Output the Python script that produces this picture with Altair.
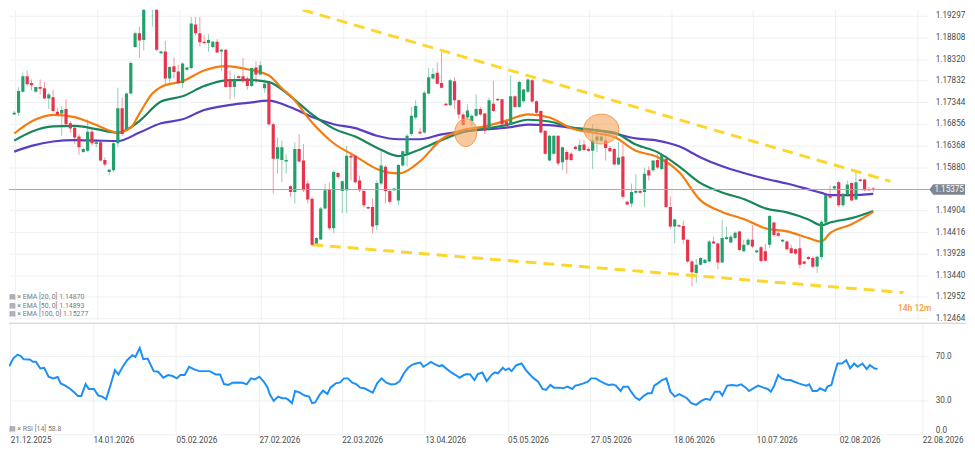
import altair as alt
import pandas as pd

# ---------------- data ----------------
# daily candles: (open, high, low, close), index 1..200
candles = [
 (1.1707,1.1715,1.1706,1.1711),(1.1711,1.1769,1.1704,1.1760),(1.1758,1.1802,1.1756,1.1793),(1.1793,1.1806,1.1771,1.1775),
 (1.1778,1.1786,1.1761,1.1773),(1.1758,1.1769,1.1756,1.1769),(1.1769,1.1786,1.1752,1.1765),(1.1766,1.1780,1.1741,1.1743),
 (1.1743,1.1756,1.1719,1.1752),(1.1746,1.1763,1.1711,1.1715),(1.1713,1.1722,1.1704,1.1707),(1.1709,1.1726,1.1659,1.1717),
 (1.1719,1.1741,1.1681,1.1685),(1.1687,1.1692,1.1666,1.1675),(1.1677,1.1681,1.1640,1.1655),(1.1657,1.1663,1.1616,1.1633),
 (1.1622,1.1631,1.1620,1.1629),(1.1625,1.1696,1.1622,1.1668),(1.1668,1.1674,1.1637,1.1642),(1.1640,1.1651,1.1633,1.1644),
 (1.1644,1.1648,1.1601,1.1603),(1.1604,1.1610,1.1590,1.1594),(1.1577,1.1584,1.1569,1.1582),(1.1581,1.1648,1.1577,1.1642),
 (1.1642,1.1767,1.1633,1.1721),(1.1721,1.1745,1.1659,1.1663),(1.1674,1.1756,1.1670,1.1754),(1.1754,1.1827,1.1752,1.1823),
 (1.1859,1.1894,1.1857,1.1890),(1.1890,1.1905,1.1834,1.1874),(1.1875,1.1990,1.1851,1.1975),(1.1975,1.1990,1.1950,1.1955),
 (1.1950,1.1985,1.1905,1.1965),(1.1965,1.1975,1.1849,1.1853),(1.1845,1.1851,1.1843,1.1849),(1.1849,1.1873,1.1775,1.1788),
 (1.1788,1.1816,1.1778,1.1814),(1.1816,1.1836,1.1788,1.1803),(1.1804,1.1819,1.1775,1.1778),(1.1778,1.1824,1.1766,1.1822),
 (1.1808,1.1815,1.1806,1.1813),(1.1812,1.1927,1.1808,1.1912),(1.1910,1.1927,1.1886,1.1890),(1.1890,1.1927,1.1860,1.1870),
 (1.1871,1.1886,1.1866,1.1868),(1.1868,1.1888,1.1849,1.1875),(1.1859,1.1873,1.1857,1.1871),(1.1871,1.1877,1.1845,1.1847),
 (1.1849,1.1855,1.1804,1.1853),(1.1853,1.1855,1.1767,1.1769),(1.1786,1.1806,1.1741,1.1769),(1.1769,1.1797,1.1745,1.1786),
 (1.1793,1.1795,1.1788,1.1789),(1.1793,1.1834,1.1778,1.1782),(1.1788,1.1793,1.1763,1.1771),(1.1771,1.1813,1.1769,1.1812),
 (1.1813,1.1827,1.1778,1.1797),(1.1797,1.1827,1.1795,1.1818),(1.1766,1.1786,1.1756,1.1776),(1.1778,1.1782,1.1681,1.1685),
 (1.1685,1.1689,1.1528,1.1607),(1.1607,1.1655,1.1573,1.1633),(1.1604,1.1648,1.1554,1.1633),(1.1601,1.1618,1.1573,1.1604),
 (1.1545,1.1547,1.1521,1.1532),(1.1532,1.1644,1.1506,1.1629),(1.1629,1.1663,1.1599,1.1601),(1.1603,1.1640,1.1532,1.1536),
 (1.1551,1.1558,1.1506,1.1515),(1.1517,1.1521,1.1409,1.1413),(1.1416,1.1430,1.1415,1.1428),(1.1425,1.1498,1.1424,1.1495),
 (1.1495,1.1551,1.1492,1.1536),(1.1537,1.1554,1.1446,1.1450),(1.1450,1.1581,1.1439,1.1577),(1.1575,1.1577,1.1563,1.1566),
 (1.1534,1.1558,1.1484,1.1556),(1.1536,1.1636,1.1484,1.1614),(1.1614,1.1622,1.1558,1.1610),(1.1614,1.1616,1.1552,1.1554),
 (1.1558,1.1569,1.1532,1.1536),(1.1534,1.1537,1.1498,1.1502),(1.1498,1.1500,1.1493,1.1495),(1.1498,1.1517,1.1439,1.1454),
 (1.1457,1.1558,1.1446,1.1552),(1.1551,1.1625,1.1547,1.1592),(1.1589,1.1592,1.1506,1.1534),(1.1534,1.1536,1.1506,1.1510),
 (1.1536,1.1542,1.1534,1.1540),(1.1513,1.1595,1.1502,1.1593),(1.1592,1.1625,1.1589,1.1624),(1.1620,1.1663,1.1590,1.1659),
 (1.1663,1.1724,1.1659,1.1704),(1.1700,1.1739,1.1696,1.1726),(1.1668,1.1677,1.1663,1.1664),(1.1666,1.1760,1.1664,1.1756),
 (1.1754,1.1812,1.1752,1.1791),(1.1788,1.1812,1.1786,1.1798),(1.1801,1.1824,1.1775,1.1776),(1.1778,1.1851,1.1766,1.1767),
 (1.1731,1.1733,1.1726,1.1728),(1.1728,1.1788,1.1726,1.1784),(1.1782,1.1791,1.1719,1.1739),(1.1739,1.1741,1.1696,1.1707),
 (1.1707,1.1711,1.1681,1.1683),(1.1700,1.1730,1.1696,1.1716),(1.1692,1.1707,1.1681,1.1704),(1.1704,1.1752,1.1701,1.1719),
 (1.1719,1.1724,1.1704,1.1707),(1.1709,1.1711,1.1663,1.1670),(1.1674,1.1745,1.1670,1.1739),(1.1731,1.1783,1.1713,1.1715),
 (1.1742,1.1745,1.1737,1.1739),(1.1741,1.1742,1.1681,1.1685),(1.1691,1.1696,1.1679,1.1683),(1.1685,1.1795,1.1683,1.1748),
 (1.1748,1.1750,1.1722,1.1724),(1.1724,1.1783,1.1722,1.1780),(1.1737,1.1765,1.1733,1.1763),(1.1758,1.1788,1.1756,1.1786),
 (1.1784,1.1787,1.1733,1.1736),(1.1737,1.1739,1.1707,1.1711),(1.1715,1.1716,1.1664,1.1666),(1.1670,1.1671,1.1616,1.1618),
 (1.1603,1.1660,1.1601,1.1659),(1.1618,1.1660,1.1614,1.1659),(1.1659,1.1660,1.1592,1.1596),(1.1599,1.1634,1.1581,1.1633),
 (1.1622,1.1627,1.1573,1.1605),(1.1618,1.1622,1.1601,1.1604),(1.1634,1.1637,1.1627,1.1629),(1.1625,1.1649,1.1624,1.1638),
 (1.1639,1.1649,1.1625,1.1627),(1.1629,1.1634,1.1622,1.1625),(1.1625,1.1685,1.1584,1.1648),(1.1648,1.1678,1.1622,1.1657),
 (1.1648,1.1662,1.1645,1.1657),(1.1648,1.1666,1.1603,1.1631),(1.1631,1.1636,1.1622,1.1624),(1.1629,1.1631,1.1592,1.1594),
 (1.1594,1.1644,1.1592,1.1610),(1.1612,1.1640,1.1517,1.1521),(1.1510,1.1512,1.1502,1.1504),(1.1506,1.1551,1.1498,1.1532),
 (1.1530,1.1573,1.1528,1.1534),(1.1534,1.1536,1.1528,1.1530),(1.1532,1.1587,1.1498,1.1573),(1.1581,1.1590,1.1558,1.1569),
 (1.1581,1.1604,1.1577,1.1603),(1.1604,1.1618,1.1584,1.1587),(1.1584,1.1618,1.1582,1.1616),(1.1607,1.1614,1.1495,1.1498),
 (1.1498,1.1522,1.1450,1.1454),(1.1454,1.1472,1.1416,1.1470),(1.1457,1.1459,1.1452,1.1454),(1.1455,1.1467,1.1415,1.1424),
 (1.1424,1.1425,1.1372,1.1375),(1.1375,1.1379,1.1319,1.1351),(1.1349,1.1381,1.1327,1.1368),(1.1368,1.1385,1.1366,1.1383),
 (1.1372,1.1381,1.1370,1.1379),(1.1375,1.1424,1.1374,1.1420),(1.1420,1.1431,1.1415,1.1416),(1.1416,1.1418,1.1358,1.1373),
 (1.1373,1.1469,1.1372,1.1428),(1.1426,1.1454,1.1424,1.1430),(1.1418,1.1435,1.1416,1.1431),(1.1428,1.1443,1.1425,1.1440),
 (1.1443,1.1445,1.1398,1.1401),(1.1398,1.1424,1.1396,1.1413),(1.1413,1.1428,1.1410,1.1424),(1.1424,1.1457,1.1405,1.1409),
 (1.1396,1.1402,1.1394,1.1400),(1.1407,1.1410,1.1373,1.1376),(1.1398,1.1416,1.1375,1.1377),(1.1413,1.1480,1.1405,1.1478),
 (1.1463,1.1465,1.1431,1.1435),(1.1439,1.1443,1.1431,1.1433),(1.1420,1.1425,1.1418,1.1424),(1.1420,1.1422,1.1400,1.1403),
 (1.1405,1.1413,1.1393,1.1394),(1.1403,1.1405,1.1390,1.1393),(1.1405,1.1431,1.1360,1.1368),(1.1375,1.1377,1.1368,1.1370),
 (1.1385,1.1387,1.1379,1.1381),(1.1383,1.1388,1.1360,1.1363),(1.1364,1.1388,1.1349,1.1386),(1.1385,1.1469,1.1379,1.1465),
 (1.1463,1.1528,1.1457,1.1525),(1.1525,1.1547,1.1517,1.1519),(1.1540,1.1547,1.1539,1.1545),(1.1554,1.1557,1.1498,1.1502),
 (1.1502,1.1530,1.1498,1.1528),(1.1525,1.1558,1.1521,1.1549),(1.1552,1.1554,1.1512,1.1513),(1.1515,1.1581,1.1513,1.1554),
 (1.1560,1.1562,1.1555,1.1557),(1.1560,1.1562,1.1534,1.1536),(1.1539,1.1543,1.1534,1.1536),(1.1540,1.1544,1.1531,1.15375),
]

# EMA lines: (candle index, value)
ema20 = [(1,1.1664),(5,1.1691),(10,1.1706),(15,1.1701),(20,1.1683),(25,1.1666),(28,1.1677),(30,1.1709),(33,1.1754),
         (35,1.1769),(40,1.1782),(45,1.1806),(50,1.1816),(55,1.1809),(60,1.1795),(63,1.1766),(65,1.1749),(70,1.1689),
         (75,1.1642),(80,1.1613),(85,1.1584),(90,1.1574),(95,1.1601),(100,1.1651),(105,1.1672),(110,1.1680),(115,1.1693),
         (120,1.1707),(125,1.1700),(130,1.1676),(135,1.1666),(140,1.1656),(145,1.1625),(150,1.1611),(155,1.1577),
         (160,1.1513),(165,1.1487),(170,1.1471),(175,1.1450),(180,1.1443),(185,1.1428),(188,1.1420),(190,1.1439),
         (195,1.1459),(200,1.14870)]
ema50 = [(1,1.1648),(5,1.1668),(10,1.1680),(15,1.1681),(20,1.1674),(25,1.1666),(28,1.1678),(30,1.1692),(35,1.1736),
         (40,1.1748),(45,1.1771),(50,1.1784),(55,1.1785),(60,1.1780),(65,1.1748),(70,1.1707),(75,1.1675),(80,1.1657),
         (85,1.1632),(90,1.1613),(95,1.1628),(100,1.1649),(105,1.1667),(110,1.1675),(115,1.1683),(120,1.1695),
         (125,1.1691),(130,1.1678),(135,1.1672),(140,1.1666),(145,1.1639),(150,1.1622),(155,1.1590),(160,1.1552),
         (165,1.1531),(170,1.1516),(175,1.1495),(180,1.1486),(185,1.1470),(188,1.1457),(190,1.1463),(195,1.1473),
         (200,1.14893)]
ema100 = [(1,1.1623),(5,1.1636),(10,1.1646),(15,1.1649),(20,1.1648),(25,1.1647),(30,1.1666),(35,1.1687),(40,1.1696),
          (45,1.1717),(50,1.1727),(55,1.1733),(60,1.1738),(65,1.1723),(70,1.1701),(75,1.1685),(80,1.1676),(85,1.1659),
          (90,1.1651),(95,1.1651),(100,1.1662),(105,1.1669),(110,1.1673),(115,1.1677),(120,1.1684),(125,1.1683),
          (130,1.1677),(135,1.1672),(140,1.1664),(145,1.1653),(150,1.1648),(155,1.1635),(160,1.1610),(165,1.1590),
          (170,1.1575),(175,1.1562),(180,1.1551),(185,1.1538),(188,1.1530),(190,1.1525),(195,1.1525),(200,1.15277)]

# RSI(14): (candle index, value)
rsi = [(1.0,61.0),(1.9,67.9),(2.9,71.4),(3.6,70.2),(4.3,67.3),(5.7,67.0),(6.4,64.9),(7.1,64.9),(8.1,59.0),(9.0,59.6),
       (10.0,51.6),(11.0,50.1),(12.1,51.3),(12.8,45.6),(13.8,43.6),(15.0,40.6),(16.1,36.7),(16.7,34.4),(17.5,34.4),
       (18.5,45.0),(19.2,40.6),(20.4,40.6),(21.4,34.7),(22.3,33.8),(23.2,31.4),(24.2,44.2),(25.2,57.5),(26.0,53.6),
       (27.0,60.5),(28.0,66.4),(29.2,70.8),(29.9,69.3),(30.9,77.3),(31.7,67.3),(32.7,67.9),(34.1,56.6),(35.1,56.0),
       (36.3,50.7),(37.4,53.1),(38.4,52.2),(39.4,50.1),(40.2,53.1),(41.2,53.1),(42.2,60.5),(43.4,58.1),(44.5,56.6),
       (45.5,56.6),(46.9,56.6),(48.3,53.6),(49.3,53.6),(50.2,45.0),(51.2,44.2),(52.2,46.2),(53.3,46.5),(54.5,46.2),
       (55.4,44.7),(56.4,50.1),(57.3,49.2),(58.3,51.6),(59.3,47.1),(60.1,42.7),(60.7,35.9),(61.6,29.9),(62.6,33.8),
       (63.5,32.3),(64.4,32.3),(65.0,30.8),(65.8,27.9),(66.5,38.8),(67.5,37.6),(68.7,34.7),(69.7,33.8),(70.4,27.9),
       (71.1,28.5),(72.1,35.3),(72.9,39.1),(73.9,36.2),(74.6,41.8),(75.8,45.6),(76.8,46.5),(77.7,50.1),(78.6,50.1),
       (79.6,46.2),(80.6,44.7),(81.4,41.8),(82.4,41.2),(83.4,39.1),(84.3,37.3),(85.3,45.6),(86.3,50.1),(87.4,46.2),
       (88.5,44.7),(89.5,45.0),(90.5,47.7),(91.4,54.5),(92.4,59.6),(93.4,62.5),(94.2,63.4),(95.2,64.3),(95.9,60.5),
       (97.1,63.4),(97.6,64.9),(98.5,62.8),(99.5,61.0),(100.2,61.9),(101.3,58.4),(102.3,55.4),(103.3,53.1),(104.2,50.7),
       (105.2,53.1),(105.9,54.0),(106.6,53.6),(107.6,48.6),(108.4,54.0),(109.4,55.4),(110.4,47.7),(111.6,53.6),
       (112.3,55.4),(113.0,54.5),(114.1,59.6),(114.7,57.5),(115.5,59.0),(116.1,56.6),(117.2,61.9),(118.4,63.4),
       (119.4,57.5),(120.4,53.1),(121.2,50.1),(122.2,47.1),(123.2,40.6),(124.0,39.7),(125.0,44.2),(125.8,41.8),
       (126.9,41.8),(127.9,41.2),(128.9,42.7),(130.0,40.6),(130.7,43.6),(131.4,44.2),(132.6,45.6),(133.6,47.1),
       (134.3,50.1),(135.4,50.1),(136.4,47.7),(137.4,45.6),(138.3,44.2),(139.3,44.7),(140.0,43.6),(141.1,38.8),
       (141.7,42.7),(142.8,42.7),(143.5,38.2),(144.5,32.9),(145.4,30.8),(146.4,34.4),(147.3,36.7),(148.2,36.7),
       (148.8,43.6),(149.6,45.6),(150.6,48.6),(151.6,50.1),(152.5,38.2),(153.5,33.8),(154.5,35.9),(155.3,34.4),
       (156.3,32.3),(157.3,27.9),(158.4,26.4),(159.6,29.9),(160.6,31.7),(161.6,30.8),(162.7,38.2),(163.8,38.2),
       (164.4,34.7),(165.5,43.6),(166.7,44.2),(167.7,43.6),(168.7,44.7),(169.8,41.8),(170.5,38.8),(171.5,41.2),
       (172.6,43.6),(173.8,41.8),(174.8,40.6),(175.5,38.2),(176.2,42.7),(177.2,53.1),(178.0,50.1),(179.0,48.6),
       (180.0,48.6),(180.9,47.1),(181.9,45.6),(182.6,44.7),(183.7,43.6),(184.3,44.7),(185.1,38.8),(186.1,38.8),
       (186.8,41.2),(188.0,38.8),(188.5,42.7),(189.4,44.2),(190.0,53.1),(190.8,63.4),(191.8,63.4),(192.8,66.4),
       (193.7,59.0),(194.6,63.4),(195.4,60.5),(196.5,63.4),(197.5,58.4),(198.2,61.9),(199.3,59.0),(200.0,58.8)]

# trend lines and highlighted zones (candle index, price)
upper_trend = [(40, 1.2022), (204, 1.1556)]
lower_trend = [(70, 1.1413), (207, 1.1305)]
zone_a = [(105.6, 1.1666)]
zone_b = [(137.0, 1.1674)]

price_ticks = [1.12464, 1.12952, 1.13440, 1.13928, 1.14416, 1.14904, 1.15880, 1.16368,
               1.16856, 1.17344, 1.17832, 1.18320, 1.18808, 1.19297]
rsi_ticks = [0, 30, 70]
tick_pos = [1.2, 20.2, 39.2, 58.2, 77.2, 96.2, 115.2, 134.2, 153.2, 172.2, 191.2, 210.2]
date_labels = ["21.12.2025", "14.01.2026", "05.02.2026", "27.02.2026", "22.03.2026", "13.04.2026",
               "05.05.2026", "27.05.2026", "18.06.2026", "10.07.2026", "02.08.2026", "22.08.2026"]
countdown = "14h 12m"
rsi_last = 58.8

# ---------------- chart ----------------
W, H_PRICE, H_RSI = 927, 313, 112
FONT = "Roboto, sans-serif"
SMALL = "Roboto, DejaVu Sans, sans-serif"
FS = 8.2
GRID = "#eef0f3"
LABEL = "#4a4a4a"
UP, DOWN = "#22a06b", "#e5344c"

df = pd.DataFrame(candles, columns=["o", "h", "l", "c"])
df["n"] = range(1, len(df) + 1)
df["dir"] = ["up" if c >= o else "down" for o, c in zip(df["o"], df["c"])]

xs = alt.Scale(domain=[0.932, 211.61], nice=False, zero=False)
ys = alt.Scale(domain=[1.12426, 1.19431], nice=False, zero=False)
rs = alt.Scale(domain=[0, 99.56], nice=False, zero=False)
cs = alt.Scale(domain=["up", "down"], range=[UP, DOWN])

price_axis = alt.Axis(orient="right", values=price_ticks, format=".5f", title=None,
                      labelFont=FONT, labelFontSize=FS, labelColor=LABEL, labelPadding=7,
                      ticks=False, domain=False, grid=True, gridColor=GRID, labelFlush=False)
top_x_axis = alt.Axis(values=tick_pos, labels=False, ticks=False, domain=False,
                      grid=True, gridColor=GRID, title=None)

X0 = alt.X("n:Q", scale=xs, axis=top_x_axis)
Y0 = alt.Y("p:Q", scale=ys, axis=price_axis)

wicks = alt.Chart(df).mark_rule(strokeWidth=1, opacity=0.5, clip=True).encode(
    x=X0,
    y=alt.Y("l:Q", scale=ys, axis=price_axis),
    y2="h:Q",
    color=alt.Color("dir:N", scale=cs, legend=None),
)
bodies = alt.Chart(df).mark_bar(size=3.2, clip=True).encode(
    x=X0, y=alt.Y("o:Q", scale=ys, axis=price_axis), y2="c:Q",
    color=alt.Color("dir:N", scale=cs, legend=None),
)

def line_layer(points, color, width=2.2, dash=None, interp="monotone"):
    d = pd.DataFrame(points, columns=["n", "p"])
    kw = dict(color=color, strokeWidth=width, clip=True, interpolate=interp)
    if dash:
        kw["strokeDash"] = dash
    return alt.Chart(d).mark_line(**kw).encode(x=X0, y=Y0)

l100 = line_layer(ema100, "#5b3cc4")
l50 = line_layer(ema50, "#17875a")
l20 = line_layer(ema20, "#f57c0f")
tr_up = line_layer(upper_trend, "#fcd62a", 3, [11, 7], "linear")
tr_lo = line_layer(lower_trend, "#fcd62a", 3, [11, 7], "linear")

ell_a = "M -0.79 0 A 0.79 1 0 1 0 0.79 0 A 0.79 1 0 1 0 -0.79 0 Z"
ell_b = "M -1 0 A 1 0.85 0 1 0 1 0 A 1 0.85 0 1 0 -1 0 Z"
zone1 = alt.Chart(pd.DataFrame(zone_a, columns=["n", "p"])).mark_point(
    shape=ell_a, size=784, filled=True, fill="#f6a45c", fillOpacity=0.6,
    stroke="#f29a4c", strokeWidth=1, opacity=1, clip=True).encode(x=X0, y=Y0)
zone2 = alt.Chart(pd.DataFrame(zone_b, columns=["n", "p"])).mark_point(
    shape=ell_b, size=1253, filled=True, fill="#f6a45c", fillOpacity=0.6,
    stroke="#f29a4c", strokeWidth=1, opacity=1, clip=True).encode(x=X0, y=Y0)

last = pd.DataFrame({"p": [candles[-1][3]], "t": [f"{candles[-1][3]:.5f}"]})
cur_line = alt.Chart(last).mark_rule(color="#a4a9af", strokeWidth=1).encode(
    y=Y0, x=alt.value(0), x2=alt.value(W + 4))
arrow = "M -1.25 0 L -1 -0.33 L 1 -0.33 L 1 0.33 L -1 0.33 Z"
cur_box = alt.Chart(last).mark_point(shape=arrow, size=1024, filled=True, color="#80878e",
                                     opacity=1).encode(y=Y0, x=alt.value(W + 21))
cur_txt = alt.Chart(last).mark_text(color="white", font=FONT, fontSize=FS, align="center",
                                    baseline="middle").encode(y=Y0, x=alt.value(W + 21), text="t:N")

legend_txt = "\n".join([
    f"\u25a4 \u00d7 EMA [20, 0] {ema20[-1][1]:.5f}",
    f"\u25a4 \u00d7 EMA [50, 0] {ema50[-1][1]:.5f}",
    f"\u25a4 \u00d7 EMA [100, 0] {ema100[-1][1]:.5f}",
])
legend = alt.Chart(pd.DataFrame({"t": [legend_txt]})).mark_text(
    font=SMALL, fontSize=7, color="#7a7a7a", align="left", baseline="middle",
    lineBreak="\n", lineHeight=8.2).encode(x=alt.value(0), y=alt.value(290), text="t:N")
cd = alt.Chart(pd.DataFrame({"t": [countdown]})).mark_text(
    font="Roboto", fontSize=8.5, fontWeight=600, color="#f4a04c", align="right",
    baseline="middle").encode(x=alt.value(W + 3), y=alt.value(301), text="t:N")

price = alt.layer(wicks, tr_up, tr_lo, l100, l50, l20, bodies, zone1, zone2,
                  cur_line, cur_box, cur_txt, legend, cd).properties(width=W, height=H_PRICE)

# RSI panel
rdf = pd.DataFrame(rsi, columns=["n", "v"])
labels_js = "[" + ",".join(f"'{d}'" for d in date_labels) + "]"
x_axis = alt.Axis(values=tick_pos, labelExpr=f"{labels_js}[round((datum.value - {tick_pos[0]}) / 19)]",
                  labelAlign="left", labelPadding=2, labelFont=FONT, labelFontSize=FS,
                  labelColor=LABEL, labelFlush=False, labelOverlap=False, labelBound=False,
                  ticks=False, domain=False, grid=True, gridColor=GRID, title=None)
rsi_axis = alt.Axis(orient="right", values=rsi_ticks, format=".1f", title=None,
                    labelFont=FONT, labelFontSize=FS, labelColor=LABEL, labelPadding=7,
                    labelFlush=True, ticks=False, domain=False, grid=True, gridColor=GRID)
rsi_line = alt.Chart(rdf).mark_line(color="#1e90f5", strokeWidth=2, clip=True).encode(
    x=alt.X("n:Q", scale=xs, axis=x_axis),
    y=alt.Y("v:Q", scale=rs, axis=rsi_axis),
)
sep = alt.Chart(pd.DataFrame({"a": [0]})).mark_rule(color="#c7cbd0", strokeWidth=1).encode(
    y=alt.value(0), x=alt.value(0), x2=alt.value(W + 38))
rsi_lab = alt.Chart(pd.DataFrame({"t": [f"\u25a4 \u00d7 RSI [14] {rsi_last}"]})).mark_text(
    font=SMALL, fontSize=7, color="#7a7a7a", align="left", baseline="middle").encode(
    x=alt.value(0), y=alt.value(107), text="t:N")
rsi_chart = alt.layer(rsi_line, sep, rsi_lab).properties(width=W, height=H_RSI)

chart = alt.vconcat(price, rsi_chart, spacing=0).properties(
    padding=0, background="white").configure_view(stroke=None)

chart.save("out.html", embed_options={"renderer": "svg", "actions": False})
